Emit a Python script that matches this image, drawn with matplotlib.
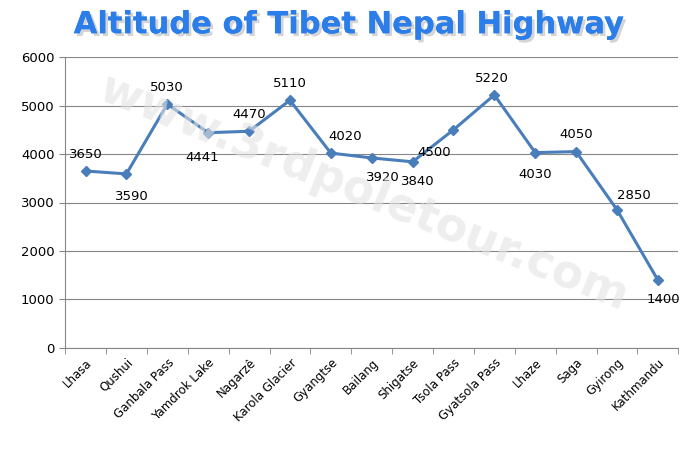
import matplotlib.pyplot as plt
import matplotlib.patheffects as pe
import numpy as np

places = ["Lhasa", "Qushui", "Ganbala Pass", "Yamdrok Lake", "Nagarzê", "Karola Glacier",
          "Gyangtse", "Bailang", "Shigatse", "Tsola Pass", "Gyatsola Pass", "Lhaze",
          "Saga", "Gyirong", "Kathmandu"]
altitude = [3650, 3590, 5030, 4441, 4470, 5110, 4020, 3920, 3840, 4500, 5220, 4030, 4050, 2850, 1400]
# label offsets in points (dx, dy)
label_off = [(0, 12), (4, -16), (0, 12), (-4, -18), (0, 12), (0, 12), (10, 12), (8, -14),
             (4, -14), (-14, -16), (-2, 12), (0, -16), (0, 12), (12, 10), (4, -14)]

fig = plt.figure(figsize=(7, 4.5), dpi=100)
ax = fig.add_axes([0.093, 0.227, 0.876, 0.646])
x = np.arange(len(places))
ax.plot(x, altitude, color="#4a7ebb", lw=2.2, marker="D", ms=5, zorder=3)
for xi, v, (dx, dy) in zip(x, altitude, label_off):
    ax.annotate(str(v), (xi, v), xytext=(dx, dy), textcoords="offset points",
                ha="center", va="center", fontsize=9.5, zorder=4)

ax.set_xlim(-0.5, len(places) - 0.5)
ax.set_ylim(0, 6000)
ax.set_yticks(range(0, 6001, 1000))
ax.yaxis.grid(True, color="#868686", lw=0.8)
ax.set_axisbelow(True)
ax.set_xticks(x)
ax.set_xticklabels(places, rotation=45, ha="right", rotation_mode="anchor", fontsize=8.5)
ax.set_xticks(np.arange(-0.5, len(places)), minor=True)
ax.tick_params(axis="x", which="major", length=0, pad=6)
ax.tick_params(axis="x", which="minor", length=4, color="#868686")
ax.tick_params(axis="y", labelsize=9.5, length=4, color="#868686")
for s in ["top", "right"]:
    ax.spines[s].set_visible(False)
for s in ["left", "bottom"]:
    ax.spines[s].set_color("#868686")

fig.text(0.497, 0.945, "Altitude of Tibet Nepal Highway", ha="center", va="center",
         fontsize=22, fontweight="bold", color="#2b7de9",
         path_effects=[pe.withSimplePatchShadow(offset=(2, -2), shadow_rgbFace="#aaaaaa", alpha=0.5), pe.Normal()])
fig.text(0.52, 0.57, "www.3rdpoletour.com", ha="center", va="center", rotation=-22,
         fontsize=33, fontweight="bold", color="#e3e3e3", alpha=0.6, zorder=0)

fig.savefig("out.png", dpi=100)
